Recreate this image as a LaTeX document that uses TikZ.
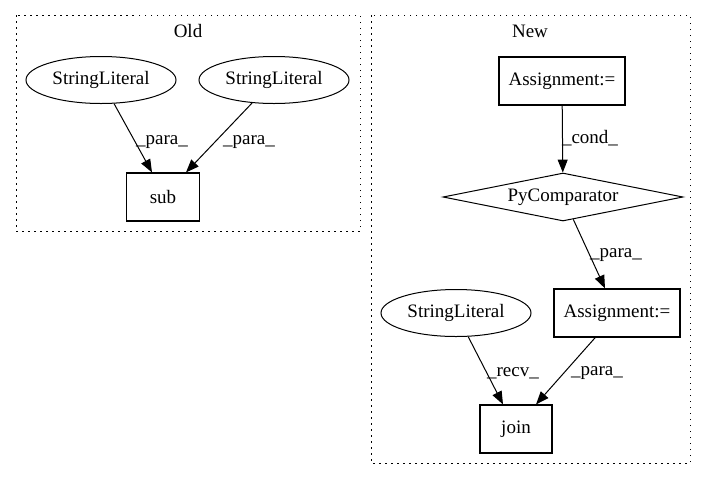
\documentclass[tikz,border=0pt]{standalone}
\usepackage{fontspec}
\setmainfont{Liberation Serif}
\usetikzlibrary{shapes.geometric,arrows.meta}
\begin{document}
\begin{tikzpicture}[x=1pt,y=-1pt,
  every node/.style={font=\fontsize{19}{22}\selectfont},
  cluster/.style={draw,line width=1pt,dash pattern=on 1.5pt off 4.5pt},
  lit/.style={draw,line width=1pt,ellipse,minimum width=150pt,minimum height=47pt,inner sep=0pt},
  box/.style={draw,line width=1.2pt,rectangle,minimum height=48pt,inner sep=0pt},
  cmpshape/.style={draw,line width=1pt,diamond,aspect=5,minimum width=240pt,minimum height=48pt,inner sep=0pt},
  edge/.style={line width=1pt,-{Triangle[length=13pt,width=10pt]}},
  elab/.style={inner sep=0pt}]
\useasboundingbox (0,0) rectangle (707,480);
% clusters
\draw[cluster] (16,15) rectangle (360,231);
\draw[cluster] (371,15) rectangle (690,463);
\node (oldlab) at (188,31) {Old};
\node (newlab) at (530,31) {New};
% Old nodes
\node[lit] (sl1) at (101,80) {StringLiteral};
\node[lit] (sl2) at (274,80) {StringLiteral};
\node[box,minimum width=73pt] (sub) at (163,197) {sub};
% New nodes
\node[box,minimum width=126pt] (asg1) at (562,81) {Assignment:=};
\node[cmpshape] (cmp) at (563,197) {PyComparator};
\node[lit] (sl3) at (456,313) {StringLiteral};
\node[box,minimum width=126pt] (asg2) at (617,313) {Assignment:=};
\node[box,minimum width=72pt] (join) at (516,429) {join};
% edges
\draw[edge] (sl1) -- ([xshift=-11pt]sub.north);
\draw[edge] (sl2) -- ([xshift=23pt]sub.north);
\draw[edge] (asg1) -- (cmp);
\draw[edge] (cmp) -- ([xshift=-12pt]asg2.north);
\draw[edge] (sl3) -- ([xshift=-13pt]join.north);
\draw[edge] (asg2) -- ([xshift=20pt]join.north);
% edge labels
\node[elab] (l1) at (162,142) {\_para\_};
\node[elab] (l2) at (249,142) {\_para\_};
\node[elab] (l3) at (590,138) {\_cond\_};
\node[elab] (l4) at (616,255) {\_para\_};
\node[elab] (l5) at (513,373) {\_recv\_};
\node[elab] (l6) at (597,373) {\_para\_};
\end{tikzpicture}
\end{document}
